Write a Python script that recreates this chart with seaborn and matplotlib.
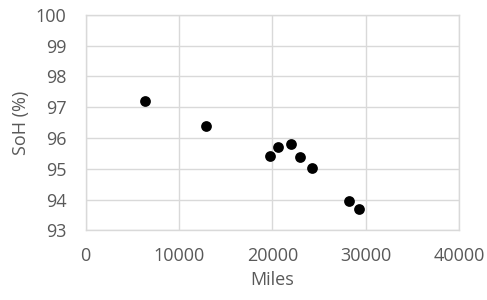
import matplotlib
matplotlib.use("Agg")
import matplotlib.pyplot as plt
import seaborn as sns
import pandas as pd

miles = [6400, 12900, 19700, 20600, 22000, 23000, 24200, 28200, 29300]
soh = [97.2, 96.4, 95.42, 95.71, 95.82, 95.39, 95.01, 93.96, 93.70]
x_ticks = [0, 10000, 20000, 30000, 40000]
y_ticks = [93, 94, 95, 96, 97, 98, 99, 100]

df = pd.DataFrame({"Miles": miles, "SoH (%)": soh})

sns.set_theme(style="whitegrid")
plt.rcParams["font.family"] = ["Open Sans", "DejaVu Sans"]

fig = plt.figure(figsize=(4.87, 3.0), dpi=100)
ax = fig.add_axes([0.176, 0.232, 0.7665, 0.719])
sns.scatterplot(data=df, x="Miles", y="SoH (%)", ax=ax, color="black", s=60,
                edgecolor="black", linewidth=0, zorder=3)
ax.set_xlim(0, 40000)
ax.set_ylim(93, 100)
ax.set_xticks(x_ticks)
ax.set_yticks(y_ticks)
ax.grid(True, color="#d9d9d9", linewidth=1)
for s in ax.spines.values():
    s.set_visible(True)
    s.set_color("#d9d9d9")
    s.set_linewidth(1)
ax.tick_params(axis="y", labelsize=13, colors="#595959", length=0, pad=14)
ax.tick_params(axis="x", labelsize=13, colors="#595959", length=0, pad=12)
ax.set_xlabel("Miles", fontsize=13, color="#595959", labelpad=4)
ax.set_ylabel("SoH (%)", fontsize=13, color="#595959", labelpad=4)
fig.savefig("out.png", dpi=100)
